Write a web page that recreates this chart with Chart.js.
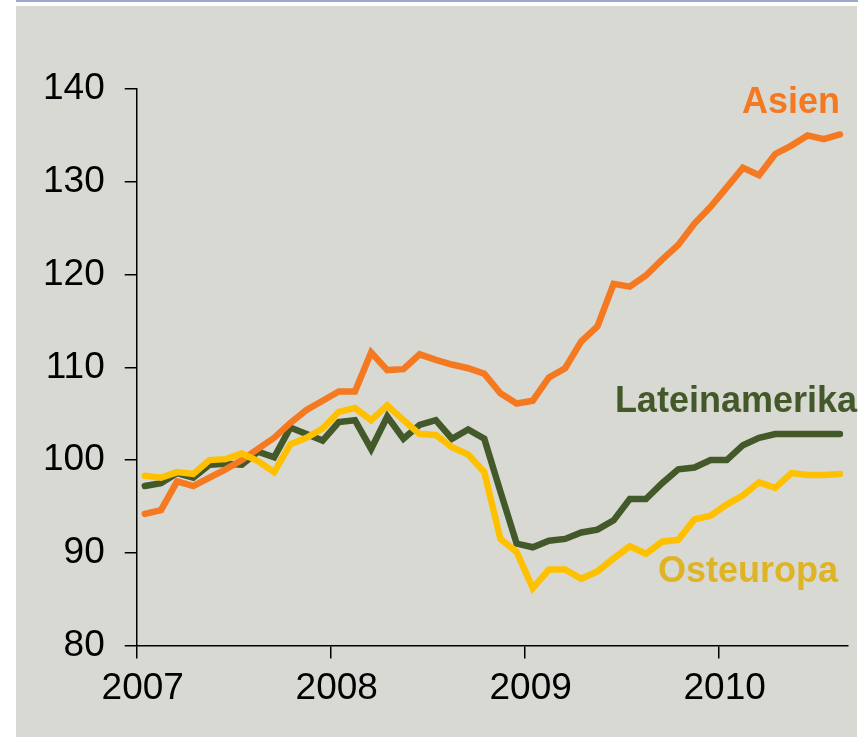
<!DOCTYPE html>
<html>
<head>
<meta charset="utf-8">
<script src="https://cdn.jsdelivr.net/npm/chart.js@4.4.1/dist/chart.umd.min.js"></script>
<style>
    body { margin: 0; background: #ffffff; }
    #wrap { width: 867px; height: 737px; position: relative; }
</style>
</head>
<body>
<div id="wrap"><canvas id="chart-1"></canvas></div>
<script>
// Monatswerte Jan 2007 - Aug 2010
const years = ["2007", "2008", "2009", "2010"];
const asien = [94.2, 94.6, 97.7, 97.2, 98.1, 99.0, 100.0, 101.2, 102.4, 104.0, 105.4, 106.4,
    107.4, 107.4, 111.6, 109.7, 109.8, 111.4, 110.8, 110.3, 109.9, 109.3, 107.2, 106.1,
    106.4, 108.9, 109.9, 112.8, 114.4, 119.0, 118.7, 119.9, 121.6, 123.2, 125.5, 127.3,
    129.4, 131.5, 130.7, 133.0, 133.9, 135.0, 134.6, 135.1];
const lateinamerika = [97.2, 97.5, 98.6, 98.1, 99.5, 99.6, 99.5, 100.9, 100.3, 103.5, 102.8, 102.1,
    104.1, 104.3, 101.2, 104.7, 102.3, 103.8, 104.3, 102.3, 103.3, 102.3, 96.6, 91.0,
    90.6, 91.3, 91.5, 92.2, 92.5, 93.5, 95.8, 95.8, 97.5, 99.0, 99.2, 100.0,
    100.0, 101.6, 102.4, 102.8, 102.8, 102.8, 102.8, 102.8];
const osteuropa = [98.3, 98.1, 98.7, 98.5, 100.0, 100.1, 100.7, 99.9, 98.7, 101.7, 102.4, 103.4,
    105.2, 105.6, 104.3, 105.9, 104.3, 102.8, 102.7, 101.4, 100.6, 98.7, 91.5, 90.1,
    86.2, 88.2, 88.2, 87.2, 88.0, 89.4, 90.7, 89.9, 91.2, 91.4, 93.6, 94.0,
    95.2, 96.2, 97.6, 97.0, 98.6, 98.4, 98.4, 98.5];
const yTicks = [80, 90, 100, 110, 120, 130, 140];

const FONT = "'Liberation Sans', Arial, sans-serif";

// Punkte liegen in der Monatsmitte
function toPoints(values) {
    return values.map(function(v, i) {
        return { x: i + 0.5, y: v };
    });
}

// Hintergrund und obere Linie
const backgroundPlugin = {
    id: "background",
    beforeDraw: function(chart) {
        const ctx = chart.ctx;
        ctx.save();
        ctx.fillStyle = "#9aa9cc";
        ctx.fillRect(16, 0, 842, 2);
        ctx.fillStyle = "#d9d9d4";
        ctx.fillRect(16, 6, 841, 731);
        ctx.restore();
    }
};

// Reihenbeschriftungen
const seriesLabelsPlugin = {
    id: "seriesLabels",
    afterDatasetsDraw: function(chart) {
        const ctx = chart.ctx;
        ctx.save();
        ctx.font = "bold 36px " + FONT;
        ctx.textAlign = "right";
        ctx.textBaseline = "alphabetic";
        ctx.fillStyle = "#f47920";
        ctx.fillText("Asien", 840, 113);
        ctx.fillStyle = "#44592a";
        ctx.fillText("Lateinamerika", 857, 412);
        ctx.fillStyle = "#dfb424";
        ctx.fillText("Osteuropa", 838, 582);
        ctx.restore();
    }
};

const dataChart = {
    datasets: [{
        label: "Osteuropa",
        data: toPoints(osteuropa),
        borderColor: "#ffc000",
        order: 1
    }, {
        label: "Asien",
        data: toPoints(asien),
        borderColor: "#f47920",
        order: 2
    }, {
        label: "Lateinamerika",
        data: toPoints(lateinamerika),
        borderColor: "#44592a",
        order: 3
    }]
};

const configChart = {
    type: "line",
    data: dataChart,
    options: {
        responsive: true,
        maintainAspectRatio: false,
        animation: false,
        layout: {
            padding: { left: 23, right: 19, top: 89, bottom: 18 }
        },
        elements: {
            line: { borderWidth: 6.5, tension: 0, borderCapStyle: "round", borderJoinStyle: "miter" },
            point: { radius: 0 }
        },
        plugins: {
            legend: { display: false },
            tooltip: { enabled: false }
        },
        scales: {
            x: {
                type: "linear",
                min: 0,
                max: 44,
                afterBuildTicks: function(axis) {
                    axis.ticks = years.map(function(y, i) { return { value: i * 12 }; });
                },
                ticks: {
                    callback: function(value) {
                        return years[Math.round(value / 12)];
                    },
                    color: "#000",
                    font: { family: FONT, size: 37 },
                    padding: 8,
                    labelOffset: 6,
                    maxRotation: 0,
                    autoSkip: false
                },
                grid: {
                    drawOnChartArea: false,
                    drawTicks: true,
                    tickLength: 13,
                    color: "#000",
                    lineWidth: 1.5
                },
                border: { color: "#000", width: 1.5 }
            },
            y: {
                min: 80,
                max: 140,
                afterBuildTicks: function(axis) {
                    axis.ticks = yTicks.map(function(v) { return { value: v }; });
                },
                ticks: {
                    color: "#000",
                    font: { family: FONT, size: 37 },
                    padding: 20
                },
                grid: {
                    drawOnChartArea: false,
                    drawTicks: true,
                    tickLength: 12,
                    color: "#000",
                    lineWidth: 1.5
                },
                border: { color: "#000", width: 1.5 }
            }
        }
    },
    plugins: [backgroundPlugin, seriesLabelsPlugin]
};

const chart = new Chart(document.getElementById("chart-1"), configChart);
</script>
</body>
</html>
